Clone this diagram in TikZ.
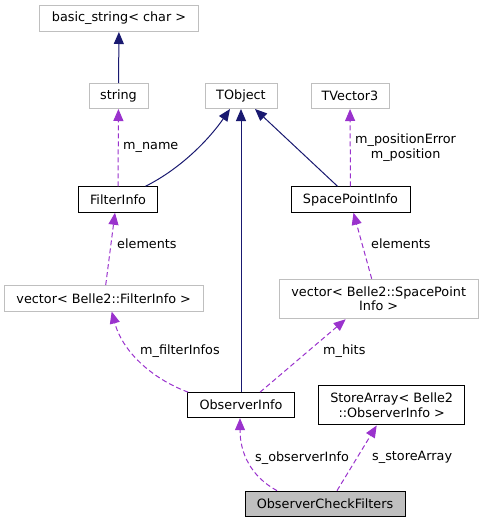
\documentclass[tikz,border=0pt]{standalone}
\usepackage{fontspec}
\setmainfont{DejaVu Sans}
\usetikzlibrary{arrows.meta}
\definecolor{navy}{HTML}{191970}
\definecolor{orchid}{HTML}{9A32CD}
\definecolor{boxgrey}{HTML}{BFBFBF}
\tikzset{
  box/.style={draw=black, line width=1pt, fill=white, rectangle, inner sep=0pt, align=center, font=\fontsize{12.8}{14.3}\selectfont},
  gbox/.style={box, draw=boxgrey},
  inh/.style={draw=navy, line width=1pt, -{Triangle[length=12pt,width=10pt]}},
  use/.style={draw=orchid, line width=1pt, dash pattern=on 5pt off 3pt, -{Triangle[length=12pt,width=10pt]}},
  lab/.style={anchor=west, inner sep=0pt, font=\fontsize{12.8}{15}\selectfont, align=center}
}
\begin{document}
\begin{tikzpicture}[x=1pt,y=-1pt]
\useasboundingbox (0,0) rectangle (483,523);
% nodes
\node[gbox, minimum width=159pt, minimum height=26pt] (bs) at (119,18.5) {basic\_string< char >};
\node[gbox, minimum width=59pt, minimum height=25pt] (str) at (118.5,96) {string};
\node[gbox, minimum width=72pt, minimum height=25pt] (tob) at (241,96) {TObject};
\node[gbox, minimum width=78pt, minimum height=25pt] (tv) at (350,96) {TVector3};
\node[box, minimum width=79pt, minimum height=25.5pt] (fi) at (118,199.5) {FilterInfo};
\node[box, minimum width=119pt, minimum height=25.5pt] (spi) at (350.5,199.5) {SpacePointInfo};
\node[gbox, minimum width=199pt, minimum height=25.5pt] (vf) at (103.7,298.3) {vector< Belle2::FilterInfo >};
\node[gbox, minimum width=199pt, minimum height=39.5pt] (vs) at (378.7,299) {vector< Belle2::SpacePoint\\Info >};
\node[box, minimum width=106.5pt, minimum height=25pt] (oi) at (241,405.2) {ObserverInfo};
\node[box, minimum width=146.5pt, minimum height=39.5pt] (sa) at (391.7,405.2) {StoreArray< Belle2\\::ObserverInfo >};
\node[box, fill=boxgrey, minimum width=160pt, minimum height=25.5pt] (ocf) at (325,503.9) {ObserverCheckFilters};
% inheritance
\draw[inh] (str) -- (bs);
\draw[inh] ([xshift=27.5pt]fi.north) .. controls (182,168) and (210,138) .. ([xshift=-11pt]tob.south);
\draw[inh] (oi) -- (tob);
\draw[inh] ([xshift=-13pt]spi.north) -- ([xshift=14pt]tob.south);
% usage
\draw[use] (fi) -- (str);
\draw[use] (spi) -- (tv);
\draw[use] ([xshift=2pt]vf.north) -- ([xshift=-3pt]fi.south);
\draw[use] ([xshift=-7pt]vs.north) -- ([xshift=3pt]spi.south);
\draw[use] ([xshift=1pt]oi.north west) .. controls (150,378) and (122,350) .. ([xshift=8pt]vf.south);
\draw[use] ([xshift=19pt]oi.north) -- ([xshift=-33pt]vs.south);
\draw[use] ([xshift=-48pt]ocf.north) .. controls (250,476) and (240,452) .. ([xshift=-1pt]oi.south);
\draw[use] ([xshift=12pt]ocf.north) -- ([xshift=-15pt]sa.south);
% labels
\node[lab] (l1) at (123,147) {m\_name};
\node[lab] (l2) at (355,147.5) {m\_positionError\\m\_position};
\node[lab] (l3) at (117,244) {elements};
\node[lab] (l4) at (371,244) {elements};
\node[lab] (l5) at (140,350.7) {m\_filterInfos};
\node[lab] (l6) at (323,350.7) {m\_hits};
\node[lab] (l7) at (255,457.7) {s\_observerInfo};
\node[lab] (l8) at (372,457.7) {s\_storeArray};
\end{tikzpicture}
\end{document}
